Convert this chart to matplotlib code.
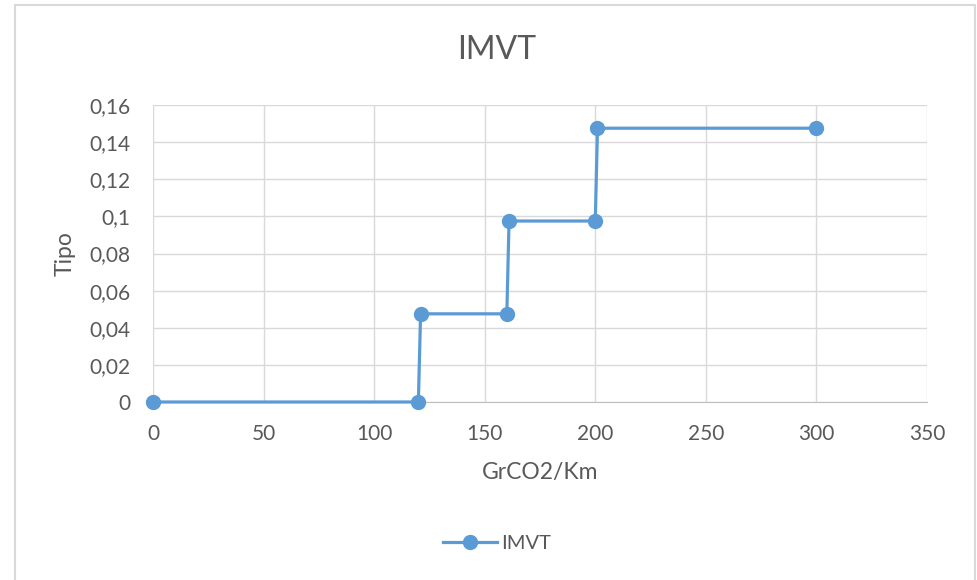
import matplotlib.pyplot as plt
from matplotlib.patches import Rectangle
from matplotlib.ticker import FuncFormatter

# IMVT step values
grco2_km = [0, 120, 121, 160, 161, 200, 201, 300]
tipo = [0, 0, 0.0475, 0.0475, 0.0975, 0.0975, 0.1475, 0.1475]

x_ticks = [0, 50, 100, 150, 200, 250, 300, 350]
y_ticks = [0, 0.02, 0.04, 0.06, 0.08, 0.1, 0.12, 0.14, 0.16]

plt.rcParams['font.family'] = ['Lato', 'DejaVu Sans']
text_color = '#595959'
grid_color = '#d9d9d9'
line_color = '#5b9bd5'

fig = plt.figure(figsize=(9.78, 5.8), dpi=100)

# outer chart border
fig.patches.append(Rectangle((15 / 978, -0.01), 960 / 978, 1 - 5 / 580 + 0.01,
                             transform=fig.transFigure, fill=False,
                             edgecolor='#d9d9d9', linewidth=1.5))

ax = fig.add_axes([153 / 978, 1 - 402 / 580, 774 / 978, 297 / 580])
ax.plot(grco2_km, tipo, color=line_color, linewidth=2.3, marker='o',
        markersize=10, label='IMVT', zorder=3, clip_on=False)

ax.set_xlim(0, 350)
ax.set_ylim(0, 0.16)
ax.set_xticks(x_ticks)
ax.set_yticks(y_ticks)


def comma_fmt(v, pos):
    s = f'{v:.2f}'.rstrip('0').rstrip('.')
    return s.replace('.', ',')


ax.yaxis.set_major_formatter(FuncFormatter(comma_fmt))
ax.grid(True, color=grid_color, linewidth=1)
ax.set_axisbelow(True)
for side in ['left', 'right', 'top']:
    ax.spines[side].set_visible(False)
ax.spines['bottom'].set_color('#bfbfbf')
ax.tick_params(length=0, labelsize=15, colors=text_color)
ax.tick_params(axis='x', pad=16)
ax.tick_params(axis='y', pad=16)

ax.set_xlabel('GrCO2/Km', fontsize=16.5, color=text_color)
ax.set_ylabel('Tipo', fontsize=16.5, color=text_color)
ax.xaxis.set_label_coords(0.5, -0.239)
ax.yaxis.set_label_coords(-0.1137, 0.5)
ax.xaxis.label.set_va('center')
ax.yaxis.label.set_va('center')

fig.text(497 / 978, 1 - 50 / 580, 'IMVT', fontsize=23, color=text_color,
         ha='center', va='center')

fig.legend(loc='center', bbox_to_anchor=(497 / 978, 1 - 543 / 580),
           frameon=False, fontsize=14.5, labelcolor=text_color,
           handlelength=2.7, handletextpad=0.2)

fig.savefig('out.png', dpi=100)
